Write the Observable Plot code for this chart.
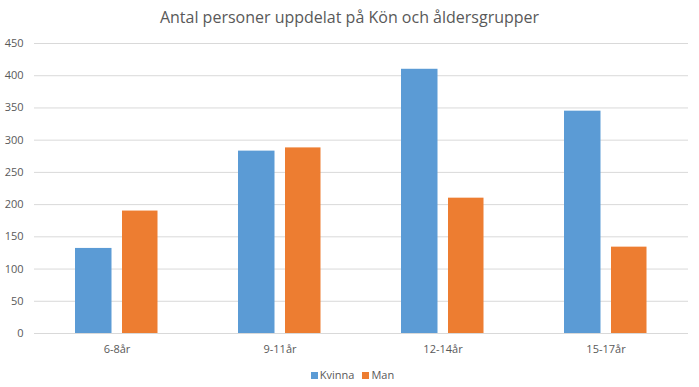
<!DOCTYPE html>
<html>
<head>
<meta charset="utf-8">
<script src="https://cdn.jsdelivr.net/npm/d3@7"></script>
<script src="https://cdn.jsdelivr.net/npm/@observablehq/plot@0.6"></script>
<style>
  body { margin: 0; background: #fff; font-family: "Open Sans", "Liberation Sans", sans-serif; }
  #wrap { width: 699px; height: 387px; position: relative; }
  #title { height: 34px; line-height: 34px; text-align: center; font-size: 16px; color: #595959; }
  #legend { height: 24px; line-height: 24px; text-align: center; font-size: 11px; color: #595959; padding-left: 6px; }
  #legend span.sw { display: inline-block; width: 7px; height: 7px; margin-right: 2px; vertical-align: 0px; }
  #legend span.it { margin: 0 4px; }
  svg { display: block; }
</style>
</head>
<body>
<div id="wrap">
  <div id="title">Antal personer uppdelat på Kön och åldersgrupper</div>
  <div id="chart"></div>
  <div id="legend"></div>
</div>
<script>
const categories = ["6-8år", "9-11år", "12-14år", "15-17år"];
const series = ["Kvinna", "Man"];
const kvinna = [132, 283, 410, 345];
const man = [190, 288, 210, 134];
const yTicks = [0, 50, 100, 150, 200, 250, 300, 350, 400, 450];
const colors = ["#5b9bd5", "#ed7d31"];

const kData = categories.map((c, i) => ({cat: c, serie: "Kvinna", value: kvinna[i]}));
const mData = categories.map((c, i) => ({cat: c, serie: "Man", value: man[i]}));

const chart = Plot.plot({
  width: 699,
  height: 329,
  marginTop: 9,
  marginBottom: 30,
  marginLeft: 34,
  marginRight: 11,
  style: {fontFamily: "'Open Sans', 'Liberation Sans', sans-serif", fontSize: "11px", color: "#595959", background: "#fff"},
  x: {domain: categories, padding: 0, label: null},
  y: {domain: [0, 450], ticks: yTicks, label: null},
  color: {domain: series, range: colors},
  marks: [
    Plot.ruleY(yTicks, {stroke: "#d9d9d9", strokeWidth: 1}),
    Plot.barY(kData, {x: "cat", y: "value", fill: "serie", insetLeft: 40, insetRight: 86.5}),
    Plot.barY(mData, {x: "cat", y: "value", fill: "serie", insetLeft: 87, insetRight: 40.5}),
    Plot.axisY({ticks: yTicks, tickSize: 0, tickPadding: 11, textAnchor: "end", fill: "#595959", label: null}),
    Plot.axisX({tickSize: 0, tickPadding: 12, fill: "#595959", label: null})
  ]
});
document.getElementById("chart").appendChild(chart);

const legend = document.getElementById("legend");
series.forEach((s, i) => {
  const it = document.createElement("span");
  it.className = "it";
  const sw = document.createElement("span");
  sw.className = "sw";
  sw.style.background = colors[i];
  it.appendChild(sw);
  it.appendChild(document.createTextNode(s));
  legend.appendChild(it);
});
</script>
</body>
</html>
